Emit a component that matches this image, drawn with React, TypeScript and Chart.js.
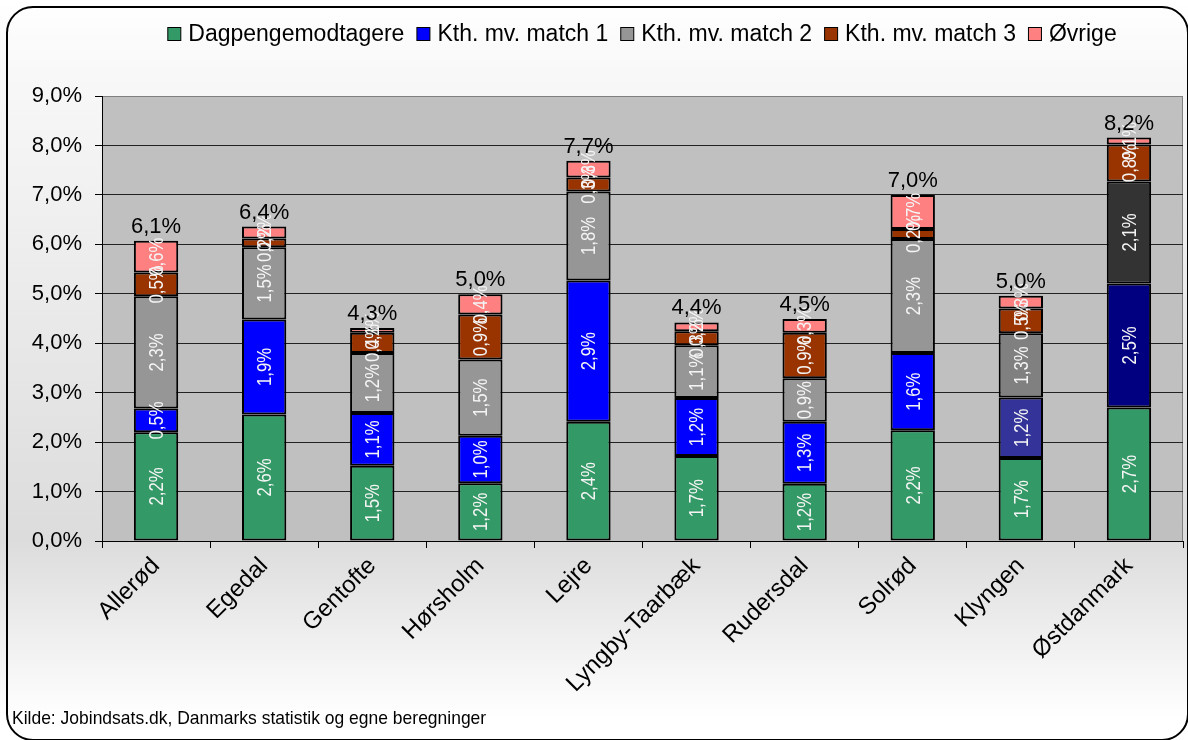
import { useEffect, useRef } from "react";
import { Chart, registerables } from "chart.js";

Chart.register(...registerables);

const categories = [
  "Allerød",
  "Egedal",
  "Gentofte",
  "Hørsholm",
  "Lejre",
  "Lyngby-Taarbæk",
  "Rudersdal",
  "Solrød",
  "Klyngen",
  "Østdanmark",
];
const seriesNames = [
  "Dagpengemodtagere",
  "Kth. mv. match 1",
  "Kth. mv. match 2",
  "Kth. mv. match 3",
  "Øvrige",
];
const dagpenge = [2.2, 2.56, 1.52, 1.17, 2.41, 1.72, 1.16, 2.24, 1.68, 2.7];
const match1 = [0.48, 1.92, 1.07, 0.96, 2.86, 1.17, 1.25, 1.56, 1.22, 2.51];
const match2 = [2.27, 1.46, 1.21, 1.54, 1.8, 1.07, 0.88, 2.31, 1.3, 2.06];
const match3 = [0.48, 0.18, 0.41, 0.91, 0.28, 0.28, 0.92, 0.2, 0.5, 0.75];
const ovrige = [0.64, 0.24, 0.1, 0.41, 0.34, 0.18, 0.28, 0.69, 0.26, 0.14];
const yMin = 0;
const yMax = 9;
const yStep = 1;
const sourceText = "Kilde: Jobindsats.dk, Danmarks statistik og egne beregninger";

const green = "#339966";
const blue = "#0000FF";
const gray = "#969696";
const brown = "#993300";
const pink = "#FF8080";
const blueColors = [blue, blue, blue, blue, blue, blue, blue, blue, "#333399", "#000080"];
const grayColors = [gray, gray, gray, gray, gray, gray, gray, gray, "#808080", "#333333"];
const legendColors = [green, blue, gray, brown, pink];

const fmt = (v: number) => v.toFixed(1).replace(".", ",") + "%";
const FONT = '"Liberation Sans", Arial, sans-serif';

const decorPlugin = {
  id: "decor",
  beforeDraw(chart: any) {
    const { ctx, width, height, chartArea } = chart;
    ctx.save();
    const g = ctx.createLinearGradient(0, 0, 0, height);
    g.addColorStop(0, "#ffffff");
    g.addColorStop(0.1, "#f8f8f8");
    g.addColorStop(0.73, "#dcdcdc");
    g.addColorStop(0.97, "#ffffff");
    g.addColorStop(1, "#ffffff");
    ctx.fillStyle = g;
    ctx.fillRect(0, 0, width, height);
    ctx.fillStyle = "#C0C0C0";
    ctx.fillRect(chartArea.left, chartArea.top, chartArea.right - chartArea.left, chartArea.bottom - chartArea.top);
    ctx.strokeStyle = "#808080";
    ctx.lineWidth = 1;
    ctx.beginPath();
    ctx.moveTo(chartArea.right - 0.5, chartArea.top);
    ctx.lineTo(chartArea.right - 0.5, chartArea.bottom);
    ctx.stroke();
    ctx.restore();
  },
  afterDatasetsDraw(chart: any) {
    const { ctx } = chart;
    ctx.save();
    // segment labels (condensed)
    ctx.fillStyle = "#f4f4f4";
    ctx.font = "21px " + FONT;
    ctx.textAlign = "center";
    ctx.textBaseline = "middle";
    chart.data.datasets.forEach((ds: any, di: number) => {
      const meta = chart.getDatasetMeta(di);
      meta.data.forEach((el: any, i: number) => {
        const v = ds.data[i];
        const cy = (el.y + el.base) / 2;
        ctx.save();
        ctx.translate(el.x, cy);
        ctx.rotate(-Math.PI / 2);
        ctx.scale(0.8, 1);
        ctx.fillText(fmt(v), 0, 1);
        ctx.restore();
      });
    });
    // totals
    const last = chart.getDatasetMeta(chart.data.datasets.length - 1);
    ctx.fillStyle = "#000";
    ctx.font = "22px " + FONT;
    ctx.textBaseline = "alphabetic";
    categories.forEach((_, i) => {
      let total = 0;
      chart.data.datasets.forEach((ds: any) => (total += ds.data[i]));
      const el = last.data[i];
      ctx.fillText(fmt(total), el.x, el.y - 8);
    });
    ctx.restore();
  },
  afterDraw(chart: any) {
    const { ctx } = chart;
    ctx.save();
    // legend
    ctx.font = "23px " + FONT;
    const boxSize = 14;
    const boxGap = 7;
    const itemGap = 12;
    const widths = seriesNames.map((n) => ctx.measureText(n).width);
    const total = widths.reduce((a, w) => a + boxSize + boxGap + w, 0) + itemGap * (seriesNames.length - 1);
    let x = 642 - total / 2;
    ctx.textBaseline = "alphabetic";
    ctx.textAlign = "left";
    seriesNames.forEach((n, i) => {
      ctx.fillStyle = legendColors[i];
      ctx.fillRect(x + 0.5, 27.5, boxSize - 1, boxSize - 1);
      ctx.strokeStyle = "#000";
      ctx.lineWidth = 1;
      ctx.strokeRect(x + 0.5, 27.5, boxSize - 1, boxSize - 1);
      x += boxSize + boxGap;
      ctx.fillStyle = "#000";
      ctx.fillText(n, x, 41);
      x += widths[i] + itemGap;
    });
    // source
    ctx.save();
    ctx.font = "19px " + FONT;
    ctx.translate(12, 724);
    ctx.scale(0.92, 1);
    ctx.fillText(sourceText, 0, 0);
    ctx.restore();
    // frame
    ctx.strokeStyle = "#000";
    ctx.lineWidth = 2;
    ctx.beginPath();
    ctx.roundRect(7, 7, 1181, 733, 26);
    ctx.stroke();
    ctx.restore();
  },
};

export default function App() {
  const ref = useRef<HTMLCanvasElement>(null);
  useEffect(() => {
    if (!ref.current) return;
    const mk = (label: string, data: number[], color: string | string[]) => ({
      label,
      data,
      backgroundColor: color,
      borderColor: "#000",
      borderWidth: 2,
      borderSkipped: false,
      barPercentage: 0.41,
      categoryPercentage: 1,
    });
    const chart = new Chart(ref.current, {
      type: "bar",
      data: {
        labels: categories,
        datasets: [
          mk(seriesNames[0], dagpenge, green),
          mk(seriesNames[1], match1, blueColors),
          mk(seriesNames[2], match2, grayColors),
          mk(seriesNames[3], match3, brown),
          mk(seriesNames[4], ovrige, pink),
        ],
      },
      options: {
        responsive: false,
        animation: false,
        devicePixelRatio: 1,
        layout: { padding: { left: 0, top: 96, right: 5, bottom: 0 } },
        plugins: { legend: { display: false }, tooltip: { enabled: false } },
        scales: {
          x: {
            stacked: true,
            grid: {
              offset: true,
              drawOnChartArea: false,
              drawTicks: true,
              tickLength: 7,
              tickColor: "#000",
            },
            border: { display: true, color: "#000", width: 1 },
            ticks: {
              minRotation: 45,
              maxRotation: 45,
              autoSkip: false,
              color: "#000",
              font: { family: FONT, size: 24 },
              padding: 4,
            },
            afterFit: (s: any) => {
              s.height = 199;
              s.paddingLeft = 0;
              s.paddingRight = 0;
            },
          },
          y: {
            stacked: true,
            min: yMin,
            max: yMax,
            ticks: {
              stepSize: yStep,
              color: "#000",
              font: { family: FONT, size: 22 },
              padding: 13,
              callback: (v: any) => fmt(Number(v)),
            },
            grid: {
              color: (c: any) => (c.tick && c.tick.value === yMax ? "#808080" : "#222"),
              tickColor: "#000",
              tickLength: 7,
              lineWidth: 1,
            },
            border: { display: true, color: "#000", width: 1 },
            afterFit: (s: any) => {
              s.width = 102;
              s.paddingTop = 0;
              s.paddingBottom = 0;
            },
          },
        },
      },
      plugins: [decorPlugin],
    } as any);
    return () => chart.destroy();
  }, []);
  return (
    <div style={{ position: "fixed", left: 0, top: 0, width: 1188, height: 740 }}>
      <canvas ref={ref} width={1188} height={740} style={{ display: "block" }} />
    </div>
  );
}
